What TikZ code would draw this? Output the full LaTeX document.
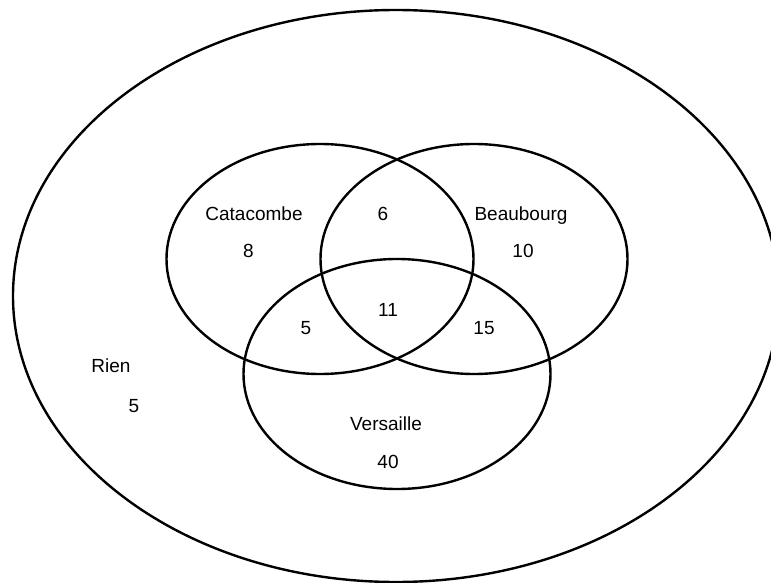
\documentclass[tikz,border=0pt]{standalone}
\usepackage{fontspec}
\setmainfont{Liberation Sans}
\begin{document}
\begin{tikzpicture}[x=1pt, y=-1pt]
    \tikzset{
      set/.style={draw=black, line width=2.4pt},
      lbl/.style={font=\fontsize{19}{22}\selectfont, inner sep=0pt, anchor=base},
    }
    \useasboundingbox (0,0) rectangle (771,583);
    \clip (0,0) rectangle (771,583);
    % ===== universe =====
    \draw[set] (396,296) ellipse [x radius=383, y radius=286];
    \node[lbl] (rien) at (111,372) {Rien};
    \node[lbl] (nRien) at (134,412) {5};
    % ===== the three sets =====
    \draw[set] (320,259) ellipse [x radius=153.5, y radius=115];
    \draw[set] (474,259) ellipse [x radius=153.5, y radius=115];
    \draw[set] (397,374) ellipse [x radius=153.5, y radius=115];
    \node[lbl] (catacombe) at (254,220) {Catacombe};
    \node[lbl] (nCat) at (248.5,257) {8};
    \node[lbl] (beaubourg) at (521,220) {Beaubourg};
    \node[lbl] (nBeau) at (523,257) {10};
    \node[lbl] (versaille) at (386,430) {Versaille};
    \node[lbl] (nVers) at (388,468) {40};
    % ===== intersections =====
    \node[lbl] (nCatBeau) at (383,220) {6};
    \node[lbl] (nCatVers) at (306,334) {5};
    \node[lbl] (nBeauVers) at (484,334) {15};
    \node[lbl] (nAll) at (388,316) {11};
\end{tikzpicture}
\end{document}
